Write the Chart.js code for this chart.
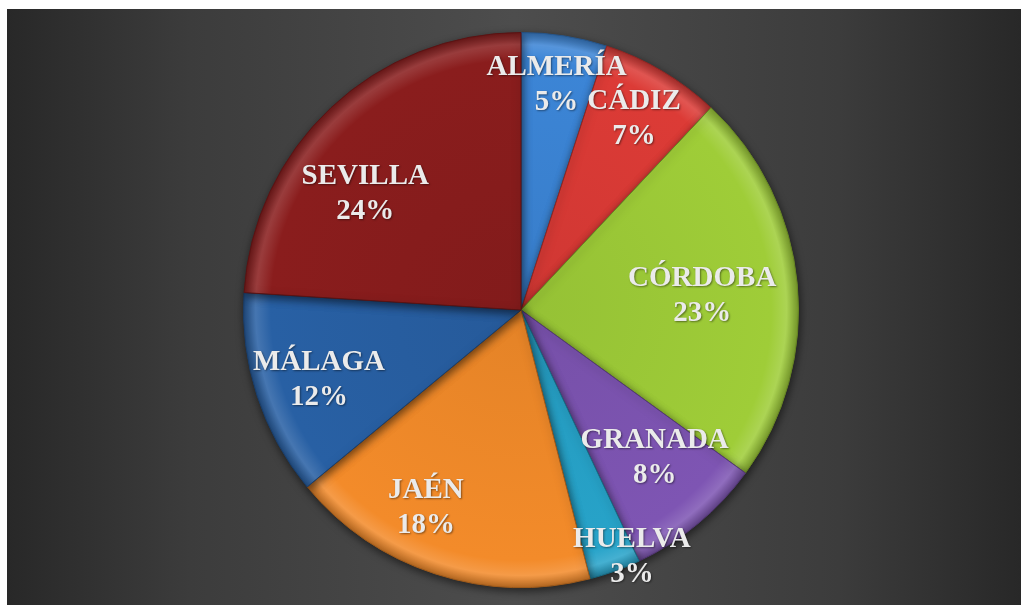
<!DOCTYPE html>
<html>
<head>
<meta charset="utf-8">
<script src="https://cdn.jsdelivr.net/npm/chart.js@4/dist/chart.umd.min.js"></script>
<style>
  html, body { margin: 0; padding: 0; background: #ffffff; }
  #wrap { position: relative; width: 1021px; height: 605px; overflow: hidden; background: #ffffff; }
  #bg { position: absolute; left: 7px; top: 9px; right: 0; bottom: 0;
        background: linear-gradient(to right, #282828 0%, #3c3c3c 18%, #4d4d4d 50%, #3c3c3c 82%, #282828 100%); }
  #c { position: absolute; left: 0; top: 0; }
</style>
</head>
<body>
<div id="wrap">
  <div id="bg"></div>
  <canvas id="c" width="1021" height="605"></canvas>
</div>
<script>
// ---- data ----
const categories = ["ALMERÍA", "CÁDIZ", "CÓRDOBA", "GRANADA", "HUELVA", "JAÉN", "MÁLAGA", "SEVILLA"];
const shares = [5, 7, 23, 8, 3, 18, 12, 24];

// ---- styles ----
const sliceColors = ["#3c85d6", "#dc3b36", "#9fcd38", "#7e55b3", "#27a3c9", "#f38b2a", "#2860a4", "#8a1d1d"];
// label placement: [fraction of radius, angle adjustment in degrees]
const labelRadial = [0.82, 0.80, 0.655, 0.72, 0.975, 0.79, 0.77, 0.70];
const labelTurn = [0, 0, 1, -2.4, -4.4, 7.7, -1, -10.1];

function shade(hex, amt) {
  const n = parseInt(hex.slice(1), 16);
  let r = (n >> 16) & 255, g = (n >> 8) & 255, b = n & 255;
  const f = v => Math.max(0, Math.min(255, Math.round(amt >= 0 ? v + (255 - v) * amt : v * (1 + amt))));
  return `rgb(${f(r)},${f(g)},${f(b)})`;
}

const shadowPlugin = {
  id: 'pieShadow',
  beforeDatasetDraw(chart) {
    const ctx = chart.ctx;
    ctx.save();
    ctx.shadowColor = 'rgba(0,0,0,0.55)';
    ctx.shadowBlur = 8;
    ctx.shadowOffsetX = 1;
    ctx.shadowOffsetY = 3;
  },
  afterDatasetDraw(chart) {
    chart.ctx.restore();
  }
};

const labelPlugin = {
  id: 'sliceLabels',
  afterDatasetsDraw(chart) {
    const ctx = chart.ctx;
    const meta = chart.getDatasetMeta(0);
    const values = chart.data.datasets[0].data;
    const total = values.reduce((a, b) => a + b, 0);
    ctx.save();
    ctx.font = 'bold 29px "Liberation Serif", "Times New Roman", serif';
    ctx.textAlign = 'center';
    ctx.textBaseline = 'middle';
    ctx.fillStyle = '#ebebeb';
    ctx.shadowColor = 'rgba(0,0,0,0.45)';
    ctx.shadowBlur = 2;
    ctx.shadowOffsetX = 1;
    ctx.shadowOffsetY = 1;
    meta.data.forEach((arc, i) => {
      const p = arc.getProps(['x', 'y', 'startAngle', 'endAngle', 'outerRadius'], true);
      const mid = (p.startAngle + p.endAngle) / 2 + labelTurn[i] * Math.PI / 180;
      const r = p.outerRadius * labelRadial[i];
      const cx = p.x + Math.cos(mid) * r;
      const cy = p.y + Math.sin(mid) * r;
      const pct = Math.round(values[i] / total * 100) + '%';
      ctx.fillText(chart.data.labels[i], cx, cy - 17.5);
      ctx.fillText(pct, cx, cy + 17.5);
    });
    ctx.restore();
  }
};

function sliceFill(context) {
  const chart = context.chart;
  const base = sliceColors[context.dataIndex];
  const area = chart.chartArea;
  if (!area) return base;
  const cx = (area.left + area.right) / 2, cy = (area.top + area.bottom) / 2;
  const R = Math.min(area.right - area.left, area.bottom - area.top) / 2;
  const g = chart.ctx.createRadialGradient(cx, cy, 0, cx, cy, R);
  g.addColorStop(0, shade(base, -0.06));
  g.addColorStop(0.90, base);
  g.addColorStop(0.955, shade(base, 0.14));
  g.addColorStop(1, shade(base, -0.25));
  return g;
}

new Chart(document.getElementById('c'), {
  type: 'pie',
  data: {
    labels: categories,
    datasets: [{
      data: shares,
      backgroundColor: sliceFill,
      borderColor: sliceColors.map(c => shade(c, -0.35)),
      borderWidth: 1
    }]
  },
  options: {
    responsive: false,
    animation: false,
    layout: { padding: { top: 32, bottom: 17, left: 243, right: 222 } },
    plugins: {
      legend: { display: false },
      tooltip: { enabled: false }
    }
  },
  plugins: [shadowPlugin, labelPlugin]
});
</script>
</body>
</html>
